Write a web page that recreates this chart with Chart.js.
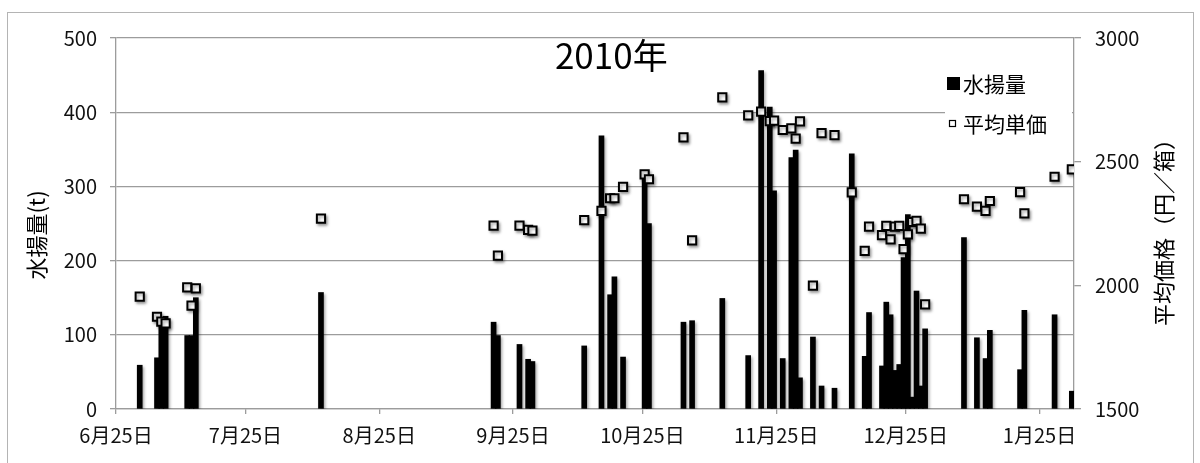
<!DOCTYPE html>
<html>
<head>
<meta charset="utf-8">
<script src="https://cdn.jsdelivr.net/npm/chart.js@4.4.1/dist/chart.umd.min.js"></script>
<style>
  html, body { margin: 0; padding: 0; background: #ffffff; }
  #wrap { width: 1200px; height: 463px; }
</style>
</head>
<body>
<div id="wrap"><canvas id="c" width="1200" height="463"></canvas></div>
<script>
// Landing days of the 2010 season
const dates = [
  '2010-06-30', '2010-07-04', '2010-07-05', '2010-07-06', '2010-07-11', '2010-07-12', '2010-07-13',
  '2010-08-11', '2010-09-20', '2010-09-21', '2010-09-26', '2010-09-28', '2010-09-29',
  '2010-10-11', '2010-10-15', '2010-10-17', '2010-10-18', '2010-10-20', '2010-10-25', '2010-10-26',
  '2010-11-03', '2010-11-05', '2010-11-12', '2010-11-18', '2010-11-21', '2010-11-23', '2010-11-24',
  '2010-11-26', '2010-11-28', '2010-11-29', '2010-11-30',
  '2010-12-03', '2010-12-05', '2010-12-08', '2010-12-12', '2010-12-15', '2010-12-16',
  '2010-12-19', '2010-12-20', '2010-12-21', '2010-12-22', '2010-12-23', '2010-12-24', '2010-12-25',
  '2010-12-26', '2010-12-27', '2010-12-28', '2010-12-29',
  '2011-01-07', '2011-01-10', '2011-01-12', '2011-01-13', '2011-01-20', '2011-01-21',
  '2011-01-28', '2011-02-01'
];

// 水揚量 (t)
const landings = [
  59, 69, 118, 125, 99, 99, 150,
  157, 117, 99, 87, 67, 64,
  85, 368, 154, 178, 70, 313, 250,
  117, 119, 149, 72, 456, 407, 294,
  68, 339, 349, 42,
  97, 31, 28, 344, 71, 130,
  58, 144, 127, 52, 60, 204, 262,
  16, 159, 31, 108,
  231, 96, 68, 106, 53, 133,
  127, 24
];

// 平均単価 (円/箱)
const prices = [
  1954, 1873, 1853, 1846, 1992, 1918, 1988,
  2270, 2241, 2120, 2241, 2224, 2221,
  2264, 2301, 2352, 2352, 2398, 2449, 2429,
  2598, 2182, 2760, 2687, 2702, 2664, 2666,
  2628, 2635, 2593, 2663,
  1999, 2615, 2607, 2376, 2139, 2237,
  2203, 2240, 2186, 2237, 2240, 2146, 2206,
  2256, 2261, 2229, 1923,
  2348, 2318, 2301, 2341, 2377, 2291,
  2439, 2469
];

const tickDates = ['2010-06-25', '2010-07-25', '2010-08-25', '2010-09-25',
                   '2010-10-25', '2010-11-25', '2010-12-25', '2011-01-25'];
const tickLabels = ['6月25日', '7月25日', '8月25日', '9月25日',
                    '10月25日', '11月25日', '12月25日', '1月25日'];

const axisStart = '2010-06-25';
const axisEnd = '2011-02-02';

const FONT = "'Noto Sans CJK JP', 'Noto Sans', sans-serif";
const GRID = '#9c9c9c';

function utc(s) {
  const [y, m, d] = s.split('-').map(Number);
  return Date.UTC(y, m - 1, d);
}
// whole days since the first day of the axis
function dayIndex(s) {
  return Math.round((utc(s) - utc(axisStart)) / 86400000);
}
// each day owns the slot [day, day + 1); marks sit in the middle of it
const slot = s => dayIndex(s) + 0.5;

const landingPoints = dates.map((d, i) => ({ x: slot(d), y: landings[i] }));
const pricePoints = dates.map((d, i) => ({ x: slot(d), y: prices[i] }));
const tickValues = tickDates.map(dayIndex);

// soft drop shadow under bars and markers
const shadow = {
  id: 'shadow',
  beforeDatasetDraw(chart) {
    const ctx = chart.ctx;
    ctx.save();
    ctx.shadowColor = 'rgba(0,0,0,0.35)';
    ctx.shadowBlur = 3;
    ctx.shadowOffsetX = 1.5;
    ctx.shadowOffsetY = 2;
  },
  afterDatasetDraw(chart) {
    chart.ctx.restore();
  }
};

// background, outer frame, title, axis titles and legend
const decor = {
  id: 'decor',
  beforeDraw(chart) {
    const ctx = chart.ctx;
    ctx.save();
    ctx.fillStyle = '#ffffff';
    ctx.fillRect(0, 0, chart.width, chart.height);
    ctx.strokeStyle = '#b4b4b4';
    ctx.lineWidth = 1;
    ctx.strokeRect(7.5, 12.5, 1186, 480);
    ctx.restore();
  },
  afterDraw(chart) {
    const ctx = chart.ctx;
    const a = chart.chartArea;
    ctx.save();
    ctx.fillStyle = '#000000';

    // chart title
    ctx.font = '35px ' + FONT;
    ctx.textAlign = 'center';
    ctx.textBaseline = 'middle';
    ctx.fillText('2010年', a.left + (a.right - a.left) * 0.517, 56);

    // axis titles
    ctx.font = '22px ' + FONT;
    ctx.save();
    ctx.translate(37, 235);
    ctx.rotate(-Math.PI / 2);
    ctx.fillText('水揚量(t)', 0, 0);
    ctx.restore();

    ctx.font = '22px ' + FONT;
    ctx.save();
    ctx.translate(1164, 227);
    ctx.rotate(-Math.PI / 2);
    ctx.fillText('平均価格（円／箱）', 0, 0);
    ctx.restore();

    // legend
    const lx = a.right - 129;
    ctx.fillStyle = '#ffffff';
    ctx.fillRect(lx, 62, 127, 76);
    ctx.fillStyle = '#000000';
    ctx.fillRect(lx + 2, 77, 13, 13);
    ctx.strokeStyle = '#000000';
    ctx.lineWidth = 1.2;
    ctx.strokeRect(lx + 4.5, 120.5, 6, 6);
    ctx.font = '21px ' + FONT;
    ctx.textAlign = 'left';
    ctx.textBaseline = 'middle';
    ctx.fillText('水揚量', lx + 18, 84);
    ctx.fillText('平均単価', lx + 18, 124);
    ctx.restore();
  }
};

new Chart(document.getElementById('c'), {
  type: 'bar',
  data: {
    datasets: [
      {
        type: 'line',
        label: '平均単価',
        data: pricePoints,
        yAxisID: 'y1',
        showLine: false,
        pointStyle: 'rect',
        pointRadius: 5.8,
        pointBorderWidth: 2,
        pointBackgroundColor: '#ffffff',
        pointBorderColor: '#000000',
        order: 0
      },
      {
        label: '水揚量',
        data: landingPoints,
        yAxisID: 'y',
        backgroundColor: '#000000',
        borderWidth: 0,
        barThickness: 5,
        order: 1
      }
    ]
  },
  options: {
    responsive: false,
    animation: false,
    devicePixelRatio: 1,
    layout: { padding: { top: 38, left: 0, right: 0, bottom: 0 } },
    plugins: {
      legend: { display: false },
      title: { display: false },
      tooltip: { enabled: false }
    },
    scales: {
      x: {
        type: 'linear',
        offset: false,
        min: 0,
        max: dayIndex(axisEnd),
        grid: { offset: false, drawOnChartArea: false, drawTicks: true, tickLength: 5, color: GRID, lineWidth: 1.3 },
        border: { color: GRID, width: 1.3 },
        afterBuildTicks(scale) {
          scale.ticks = tickValues.map(v => ({ value: v }));
        },
        afterFit(scale) { scale.height = 54; },
        ticks: {
          autoSkip: false,
          maxRotation: 0,
          padding: 9,
          color: '#111111',
          font: { family: FONT, size: 20 },
          callback: (v, i) => tickLabels[i]
        }
      },
      y: {
        position: 'left',
        min: 0,
        max: 500,
        afterFit(scale) { scale.width = 116; },
        grid: { color: GRID, lineWidth: 1.3, tickLength: 6 },
        border: { color: GRID, width: 1.3 },
        ticks: {
          stepSize: 100,
          padding: 13,
          color: '#111111',
          font: { family: FONT, size: 20 },
          callback: v => String(v)
        }
      },
      y1: {
        position: 'right',
        min: 1500,
        max: 3000,
        afterFit(scale) { scale.width = 126; },
        grid: { drawOnChartArea: false, color: GRID, lineWidth: 1.3, tickLength: 7 },
        border: { color: GRID, width: 1.3 },
        ticks: {
          stepSize: 500,
          padding: 14,
          color: '#111111',
          font: { family: FONT, size: 20 },
          callback: v => String(v)
        }
      }
    }
  },
  plugins: [decor, shadow]
});
</script>
</body>
</html>
